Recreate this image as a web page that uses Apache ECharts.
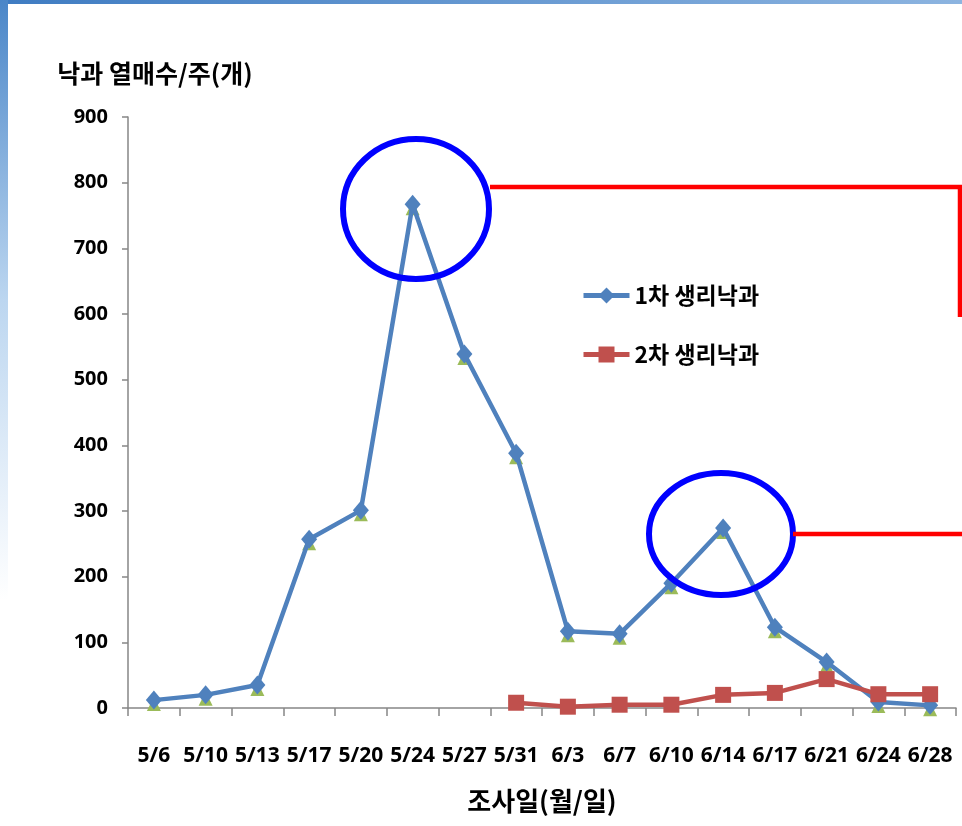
<!DOCTYPE html>
<html><head><meta charset="utf-8">
<script src="https://cdn.jsdelivr.net/npm/echarts@6/dist/echarts.min.js"></script>
<style>html,body{margin:0;padding:0;background:#fff}#c{width:962px;height:826px}</style>
</head><body><div id="c"></div>
<script>
const categories = ['5/6','5/10','5/13','5/17','5/20','5/24','5/27','5/31','6/3','6/7','6/10','6/14','6/17','6/21','6/24','6/28'];
const firstDrop = [12, 20, 35, 257, 301, 767, 539, 388, 117, 113, 190, 274, 123, 70, 9, 4];
const markerSeries = [12, 20, 35, 257, 301, 767, 539, 388, 117, 113, 190, 274, 123, 70, 9, 4];
const secondDrop = [null, null, null, null, null, null, null, 8, 2, 5, 5, 20, 23, 44, 21, 21];
const yTicks = [0, 100, 200, 300, 400, 500, 600, 700, 800, 900];
const seriesNames = ['1차 생리낙과', '2차 생리낙과'];

const chart = echarts.init(document.getElementById('c'), null, {renderer: 'canvas'});
const axisColor = '#868686';
const fontCJK = '"Noto Sans CJK KR", "Noto Sans", sans-serif';
chart.setOption({
  animation: false,
  backgroundColor: '#ffffff',
  grid: {left: 128, right: 6, top: 117, bottom: 118, containLabel: false},
  legend: {
    data: seriesNames,
    orient: 'vertical', left: 576, top: 279, itemGap: 36,
    itemWidth: 46, itemHeight: 20,
    lineStyle: {width: 5},
    textStyle: {fontFamily: fontCJK, fontWeight: 'bold', fontSize: 23, color: '#000'}
  },
  xAxis: {
    type: 'category', data: categories, boundaryGap: true,
    name: '조사일(월/일)', nameLocation: 'middle', nameGap: 80,
    nameTextStyle: {fontFamily: fontCJK, fontWeight: 'bold', fontSize: 26, color: '#000'},
    axisLine: {lineStyle: {color: axisColor, width: 1.5}},
    axisTick: {show: true, length: 8, lineStyle: {color: axisColor, width: 1.5}},
    axisLabel: {interval: 0, margin: 38, fontFamily: '"Noto Sans", sans-serif', fontWeight: 'bold', fontSize: 21, color: '#000'},
    splitLine: {show: false}
  },
  yAxis: {
    type: 'value', min: 0, max: 900, interval: 100,
    name: '낙과 열매수/주(개)', nameLocation: 'end', nameGap: 31,
    nameTextStyle: {fontFamily: fontCJK, fontWeight: 'bold', fontSize: 25, color: '#000', align: 'center', padding: [0, 0, 0, 54]},
    axisLine: {show: true, lineStyle: {color: axisColor, width: 1.5}},
    axisTick: {show: true, length: 6, inside: false, lineStyle: {color: axisColor, width: 1.5}},
    axisLabel: {margin: 20, fontFamily: '"Noto Sans", sans-serif', fontWeight: 'bold', fontSize: 20, color: '#000',
      formatter: v => yTicks.includes(v) ? String(v) : ''},
    splitLine: {show: false}
  },
  series: [
    {
      name: 'marker', type: 'line', data: markerSeries, symbol: 'triangle', symbolSize: 14,
      symbolOffset: [0, 4], showSymbol: true,
      lineStyle: {width: 0, opacity: 0}, itemStyle: {color: '#9BBB59'}, z: 2, silent: true
    },
    {
      name: seriesNames[0], type: 'line', data: firstDrop, symbol: 'diamond', symbolSize: [16, 19],
      lineStyle: {color: '#4F81BD', width: 4.5}, itemStyle: {color: '#4F81BD'}, z: 3
    },
    {
      name: seriesNames[1], type: 'line', data: secondDrop, symbol: 'rect', symbolSize: 16,
      connectNulls: false,
      lineStyle: {color: '#C0504D', width: 4.5}, itemStyle: {color: '#C0504D'}, z: 4
    }
  ],
  graphic: [
    {type: 'rect', left: 0, top: 0, z: -10, shape: {width: 962, height: 4},
      style: {fill: new echarts.graphic.LinearGradient(0, 0, 1, 0, [{offset: 0, color: '#3F7CC2'}, {offset: 1, color: '#8CB4E0'}])}},
    {type: 'rect', left: 0, top: 0, z: -10, shape: {width: 8, height: 600},
      style: {fill: new echarts.graphic.LinearGradient(0, 0, 0, 1, [{offset: 0, color: '#4A86C8'}, {offset: 0.5, color: '#BCD6F0'}, {offset: 1, color: '#ffffff'}])}},
    {type: 'ellipse', z: 100, shape: {cx: 416, cy: 209, rx: 73, ry: 70},
      style: {fill: 'none', stroke: '#0000FF', lineWidth: 6}},
    {type: 'polyline', z: 100, shape: {points: [[490, 187], [960, 187], [960, 317]]},
      style: {fill: 'none', stroke: '#FF0000', lineWidth: 4.5}},
    {type: 'ellipse', z: 100, shape: {cx: 721, cy: 534, rx: 72, ry: 61},
      style: {fill: 'none', stroke: '#0000FF', lineWidth: 6}},
    {type: 'polyline', z: 100, shape: {points: [[793, 534], [962, 534]]},
      style: {fill: 'none', stroke: '#FF0000', lineWidth: 4.5}}
  ]
});
</script></body></html>
